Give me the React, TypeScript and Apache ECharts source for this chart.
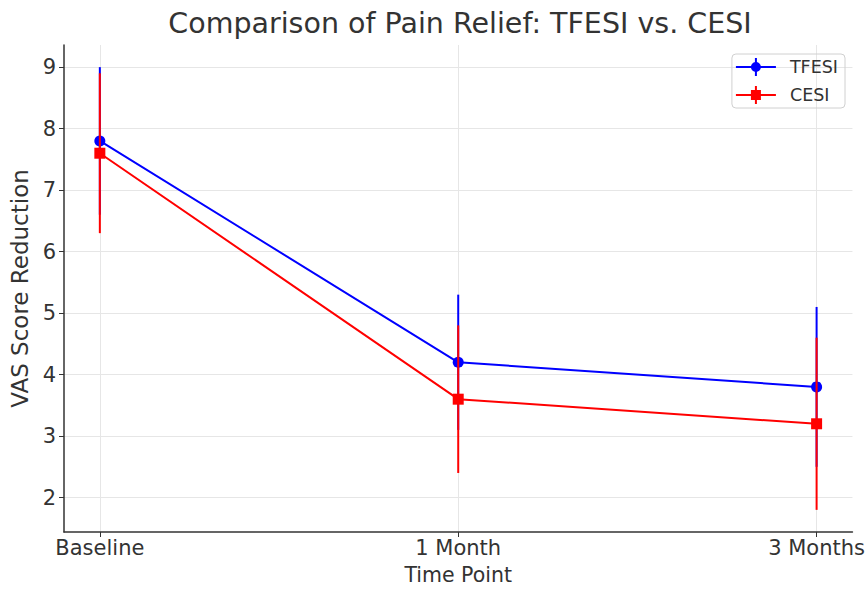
import React, { useEffect, useRef } from "react";
import * as echarts from "echarts";

const timePoints = ["Baseline", "1 Month", "3 Months"];
const tfesiMean = [7.8, 4.2, 3.8];
const tfesiErr = [1.2, 1.1, 1.3];
const cesiMean = [7.6, 3.6, 3.2];
const cesiErr = [1.3, 1.2, 1.4];
const yTicks = [2, 3, 4, 5, 6, 7, 8, 9];

const FONT = "DejaVu Sans";
const TEXT = "#333333";

function errData(mean: number[], err: number[]) {
  return mean.map((m, i) => [i, m - err[i], m + err[i]]);
}

function errRender(color: string) {
  return (params: any, api: any) => {
    const x = api.value(0);
    const p1 = api.coord([x, api.value(1)]);
    const p2 = api.coord([x, api.value(2)]);
    return {
      type: "line",
      shape: { x1: p1[0], y1: p1[1], x2: p2[0], y2: p2[1] },
      style: { stroke: color, lineWidth: 2 },
    };
  };
}

export default function App() {
  const ref = useRef<HTMLDivElement>(null);
  useEffect(() => {
    const chart = echarts.init(ref.current!, null, { renderer: "svg" });
    const blue = "#0000ff";
    const red = "#ff0000";
    chart.setOption({
      animation: false,
      backgroundColor: "#ffffff",
      title: {
        text: "Comparison of Pain Relief: TFESI vs. CESI",
        left: 455,
        textAlign: "center",
        top: 4,
        textStyle: { fontFamily: FONT, fontSize: 28.5, fontWeight: "normal", color: TEXT },
      },
      legend: {
        right: 23,
        top: 54,
        orient: "vertical",
        itemWidth: 40,
        itemHeight: 20,
        itemGap: 10,
        padding: [4, 7, 4, 4],
        borderColor: "#d0d0d0",
        borderWidth: 1,
        borderRadius: 4,
        textStyle: { fontFamily: FONT, fontSize: 17.5, color: TEXT, padding: [0, 0, 0, 9] },
        data: [
          {
            name: "TFESI",
            icon: "path://M0,9h40v2H0zM19,1h2v18h-2zM20,5a5,5 0 1,1 0,10a5,5 0 1,1 0,-10z",
          },
          {
            name: "CESI",
            icon: "path://M0,9h40v2H0zM19,1h2v18h-2zM15,5h10v10h-10z",
          },
        ],
      },
      grid: { left: 64, right: 13, top: 45, bottom: 55, containLabel: false },
      xAxis: {
        type: "value",
        min: -0.1,
        max: 2.1,
        name: "Time Point",
        nameLocation: "middle",
        nameGap: 32,
        nameTextStyle: { fontFamily: FONT, fontSize: 20.5, color: TEXT },
        axisLine: { onZero: false, lineStyle: { color: "#333", width: 1.5 } },
        axisTick: { customValues: [0, 1, 2], length: 5, lineStyle: { color: "#333" } },
        axisLabel: {
          customValues: [0, 1, 2],
          formatter: (v: number) => timePoints[Math.round(v)],
          fontFamily: FONT,
          fontSize: 21,
          color: TEXT,
          margin: 5,
        },
        splitLine: { show: true, lineStyle: { color: "#e6e6e6", width: 1 } },
      },
      yAxis: {
        type: "value",
        min: 1.44,
        max: 9.36,
        name: "VAS Score Reduction",
        nameLocation: "middle",
        nameGap: 30,
        nameTextStyle: { fontFamily: FONT, fontSize: 23, color: TEXT },
        axisLine: { show: true, onZero: false, lineStyle: { color: "#333", width: 1.5 } },
        axisTick: { show: true, customValues: yTicks, length: 5, lineStyle: { color: "#333" } },
        axisLabel: {
          customValues: yTicks,
          fontFamily: FONT,
          fontSize: 21,
          color: TEXT,
          margin: 8,
        },
        splitLine: { show: true, lineStyle: { color: "#e6e6e6", width: 1 } },
      },
      series: [
        {
          name: "TFESI err",
          type: "custom",
          renderItem: errRender(blue),
          data: errData(tfesiMean, tfesiErr),
          z: 2,
        },
        {
          name: "TFESI",
          type: "line",
          data: tfesiMean.map((v, i) => [i, v]),
          color: blue,
          lineStyle: { width: 2, color: blue },
          itemStyle: { color: blue },
          symbol: "circle",
          symbolSize: 11,
          z: 3,
        },
        {
          name: "CESI err",
          type: "custom",
          renderItem: errRender(red),
          data: errData(cesiMean, cesiErr),
          z: 4,
        },
        {
          name: "CESI",
          type: "line",
          data: cesiMean.map((v, i) => [i, v]),
          color: red,
          lineStyle: { width: 2, color: red },
          itemStyle: { color: red },
          symbol: "rect",
          symbolSize: 11,
          z: 5,
        },
      ],
    });
    return () => chart.dispose();
  }, []);
  return (
    <div
      ref={ref}
      style={{ position: "absolute", left: 0, top: 0, width: 868, height: 590 }}
    />
  );
}
